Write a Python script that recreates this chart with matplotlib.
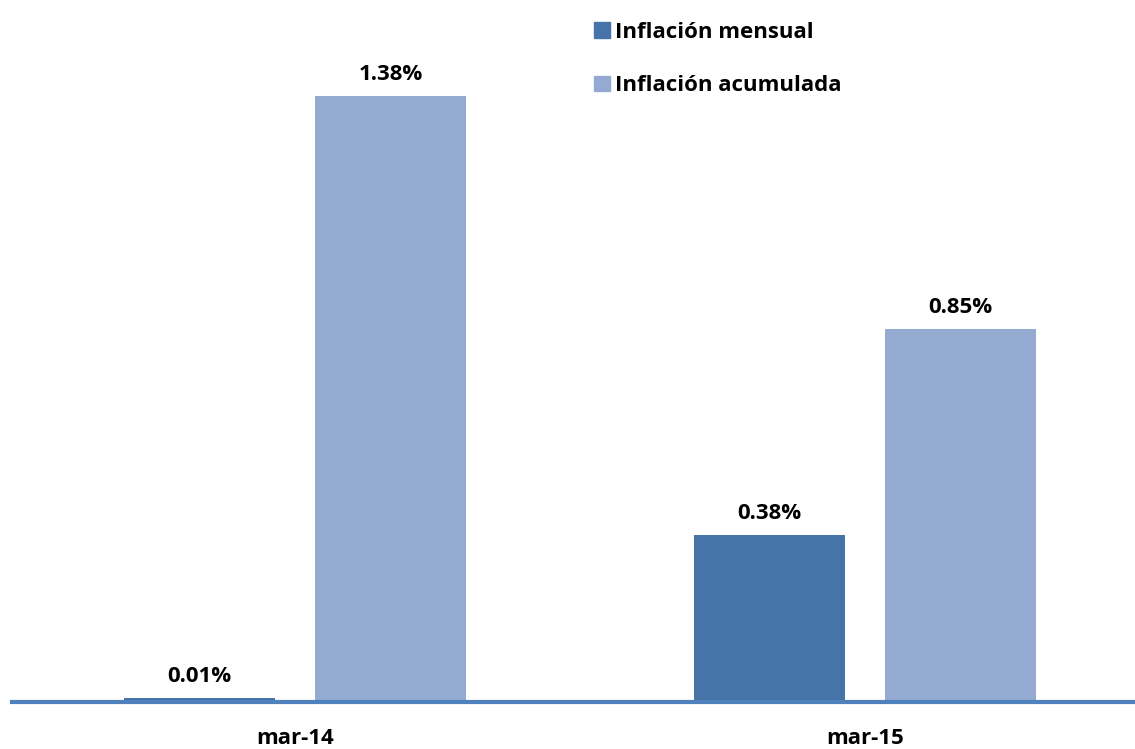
import matplotlib.pyplot as plt
from matplotlib.patches import Patch

categorias = ["mar-14", "mar-15"]
mensual = [0.01, 0.38]
acumulada = [1.38, 0.85]
series = ["Inflación mensual", "Inflación acumulada"]

c_mens = "#4673A8"
c_acum = "#95AAD1"

plt.rcParams['font.family'] = ['Open Sans', 'DejaVu Sans']

fig = plt.figure(figsize=(11.35, 7.49), dpi=100)
ax = fig.add_axes([12/1135, 47/749, 1123/1135, 672/749])

x = list(range(len(categorias)))
w = 0.265
off = 0.1675
b1 = ax.bar([i - off for i in x], mensual, w, color=c_mens)
b2 = ax.bar([i + off for i in x], acumulada, w, color=c_acum)

for bars, vals in [(b1, mensual), (b2, acumulada)]:
    for b, v in zip(bars, vals):
        ax.text(b.get_x() + b.get_width()/2, v + 0.025, f"{v:.2f}%",
                ha="center", va="bottom", fontsize=16, fontweight="bold")

ax.set_xlim(-0.4965, 1.4737)
ax.set_ylim(0, 1.53)
ax.axhline(0, color="#4F81BD", lw=3, zorder=3, clip_on=False)
for s in ax.spines.values():
    s.set_visible(False)
ax.set_yticks([])
ax.set_xticks(x)
ax.set_xticklabels(categorias, fontsize=16, fontweight="bold")
ax.tick_params(axis="x", length=0, pad=19)

handles = [Patch(color=c_mens), Patch(color=c_acum)]
fig.legend(handles, series, loc="upper left", bbox_to_anchor=(574/1135, 1 - 2/749),
           frameon=False, handlelength=0.7, handleheight=0.7, handletextpad=0.25,
           labelspacing=1.45, prop={"size": 16, "weight": "bold"})

fig.savefig("out.png", dpi=100)
